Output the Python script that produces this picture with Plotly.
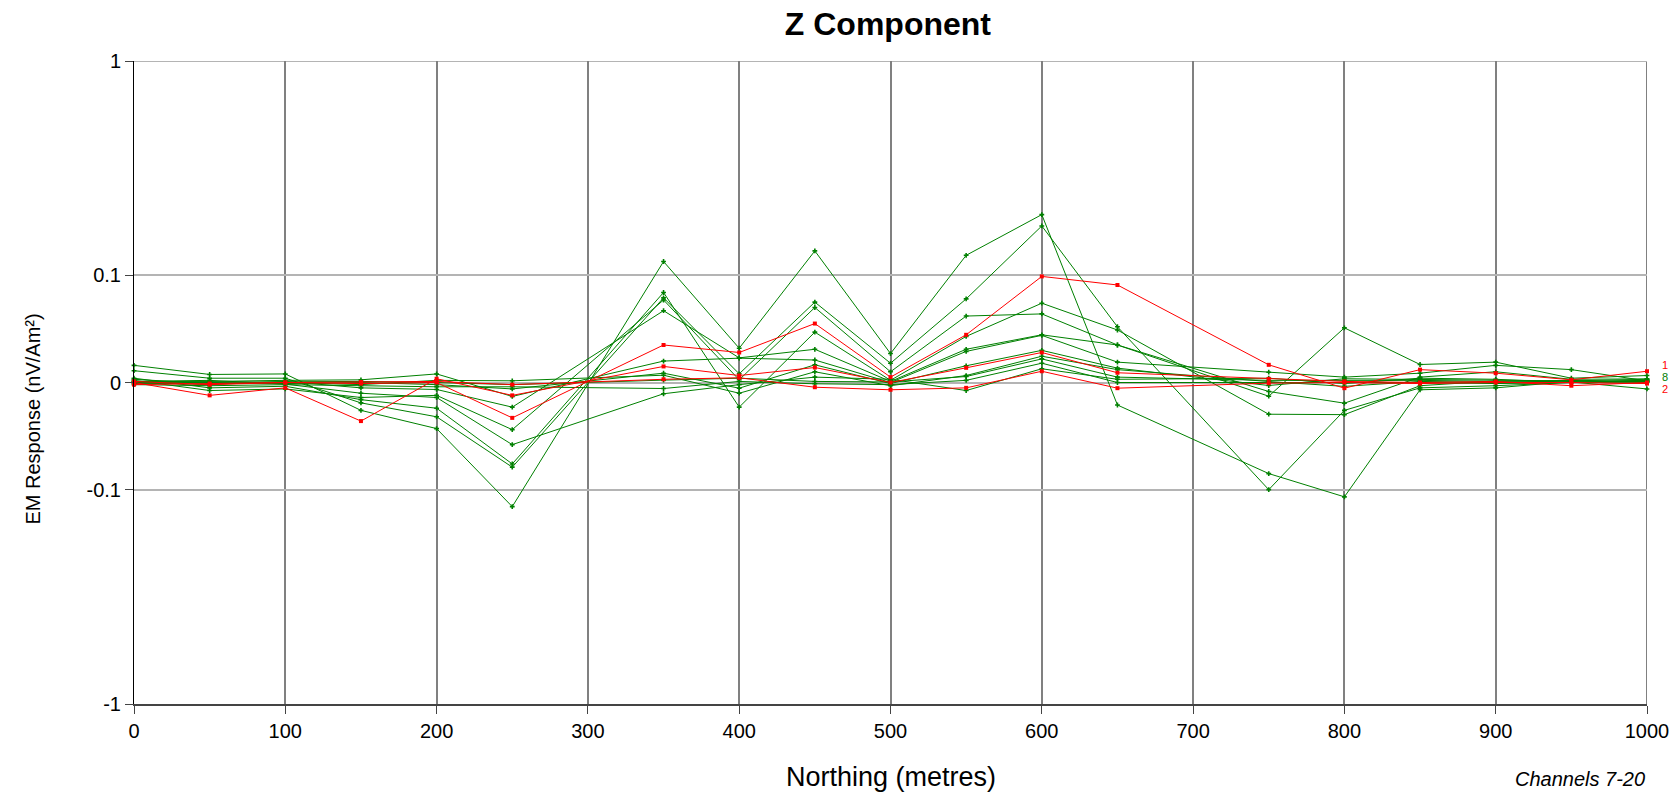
import math
import plotly.graph_objects as go

# Northing positions of the readings (metres)
northing = [0, 50, 100, 150, 200, 250, 350, 400, 450, 500, 550, 600, 650, 750, 800, 850, 900, 950, 1000]

# Z-component EM response per channel (nV/Am^2)
ch_g1 = [0.016, 0.0075, 0.008, -0.026, -0.043, -0.12, 0.116, 0.032, 0.13, 0.027, 0.124, 0.192, -0.021, -0.085, -0.108, -0.0068, -0.005, 0.001, 0.002]
ch_g2 = [0.011, 0.004, 0.004, -0.019, -0.032, -0.079, 0.079, 0.0081, 0.075, 0.018, 0.078, 0.17, 0.052, -0.1, -0.026, -0.005, -0.003, 0.0, 0.001]
ch_g3 = [0.004, -0.005, -0.0035, -0.016, -0.024, -0.076, 0.084, -0.023, 0.047, 0.002, 0.043, 0.074, 0.049, -0.0296, -0.030, -0.003, 0.0015, 0.0005, -0.006]
ch_g4 = [0.002, -0.0075, -0.006, -0.014, -0.012, -0.044, 0.077, 0.0025, 0.070, 0.010, 0.062, 0.064, 0.035, -0.0128, 0.051, 0.0168, 0.019, 0.004, 0.0065]
ch_g5 = [0.0, -0.002, 0.001, -0.005, -0.0065, -0.023, 0.067, 0.023, 0.031, 0.001, 0.031, 0.0445, 0.035, -0.0084, -0.0193, 0.005, 0.01, 0.003, 0.0034]
ch_g6 = [0.001, 0.001, 0.002, 0.0025, 0.008, -0.013, 0.020, 0.0227, 0.021, 0.0, 0.029, 0.044, 0.019, 0.0096, 0.005, 0.0087, 0.016, 0.012, 0.0015]
ch_g7 = [-0.001, 0.0, -0.001, 0.0, -0.002, -0.006, 0.0087, -0.0053, 0.0165, -0.001, 0.0156, 0.03, 0.0134, -0.0028, 0.0035, 0.003, 0.002, 0.0015, 0.003]
ch_g8 = [0.003, -0.001, 0.0, -0.002, 0.002, 0.0016, 0.0068, -0.01, 0.01, -0.003, 0.0065, 0.0245, 0.012, 0.0009, -0.0036, 0.001, 0.0, 0.0003, 0.001]
ch_g9 = [0.0, 0.0005, 0.0005, 0.001, 0.0, -0.002, 0.0022, 0.004, 0.001, 0.0005, 0.0056, 0.022, 0.005, 0.002, 0.002, 0.002, 0.001, 0.002, 0.0]
ch_g10 = [-0.002, -0.003, -0.002, -0.003, -0.004, -0.004, -0.0056, 0.001, -0.0012, -0.002, 0.002, 0.018, 0.0, 0.0, 0.0, 0.0, -0.001, 0.0, 0.002]
ch_g11 = [0.001, 0.002, -0.0015, -0.01, -0.014, -0.058, -0.0105, -0.002, 0.005, 0.003, -0.0075, 0.0128, 0.003, 0.004, -0.001, 0.004, 0.003, 0.0, 0.0005]
ch_r1 = [-0.002, -0.001, 0.0, -0.001, 0.0, -0.033, 0.035, 0.028, 0.055, 0.005, 0.0445, 0.099, 0.091, 0.0165, -0.0053, 0.012, 0.0087, 0.0025, 0.0105]
ch_r2 = [0.0, -0.012, -0.005, -0.036, 0.0035, -0.012, 0.015, 0.0065, 0.014, 0.0, 0.0137, 0.028, 0.0091, 0.0034, 0.001, 0.0, 0.001, -0.003, 0.0]
ch_r3 = [0.001, -0.002, 0.0, 0.0005, 0.001, -0.002, 0.003, 0.0044, -0.0044, -0.0068, -0.005, 0.0105, -0.0053, -0.0006, 0.0, -0.001, 0.0, 0.0, -0.001]

green_channels = [ch_g1, ch_g2, ch_g3, ch_g4, ch_g5, ch_g6, ch_g7, ch_g8, ch_g9, ch_g10, ch_g11]
red_channels = [ch_r1, ch_r2, ch_r3]

y_tick_values = [-1, -0.1, 0, 0.1, 1]
y_tick_labels = ["-1", "-0.1", "0", "0.1", "1"]
x_tick_values = list(range(0, 1001, 100))

LIN = 0.1  # linear band half-width around zero


def symlog(v):
    """Linear within +/-0.1 (half a decade wide), logarithmic beyond."""
    a = abs(v)
    if a <= LIN:
        return 0.5 * v / LIN
    return math.copysign(0.5 + math.log10(a / LIN), v)


fig = go.Figure()

for vals in green_channels:
    fig.add_trace(go.Scatter(
        x=northing, y=[symlog(v) for v in vals], mode="lines+markers",
        line=dict(color="#008000", width=1),
        marker=dict(symbol="cross", size=4, color="#008000"),
        showlegend=False, hoverinfo="skip", cliponaxis=False))

for vals in red_channels:
    fig.add_trace(go.Scatter(
        x=northing, y=[symlog(v) for v in vals], mode="lines+markers",
        line=dict(color="#FF0000", width=1),
        marker=dict(symbol="square", size=4, color="#FF0000"),
        showlegend=False, hoverinfo="skip", cliponaxis=False))

font = "Liberation Sans, Arial, sans-serif"

y_lo, y_hi = symlog(-1), symlog(1)

# frame lines at the far edges of the grid (right end and top)
shapes = [
    dict(type="line", xref="x", yref="y", x0=1000, x1=1000, y0=y_lo, y1=y_hi,
         line=dict(color="#808080", width=2), layer="below"),
    dict(type="line", xref="x", yref="y", x0=0, x1=1000, y0=y_hi, y1=y_hi,
         line=dict(color="#b4b4b4", width=2), layer="below"),
]

# channel tags stacked at the right edge, partly cut off by the page border
tags = [("1", "#FF0000", 12), ("8", "#008000", 0), ("2", "#FF0000", -12)]
tag_annotations = [
    dict(text=t, xref="paper", yref="y", x=1, y=0, xshift=18, yshift=dy + 6,
         xanchor="center", yanchor="middle", showarrow=False,
         font=dict(size=11, color=c))
    for t, c, dy in tags
]

fig.update_layout(
    width=1669, height=792,
    margin=dict(l=134, r=22, t=61, b=88, autoexpand=False),
    paper_bgcolor="white", plot_bgcolor="white",
    font=dict(family=font, color="black", size=20),
    title=dict(text="<b>Z Component</b>", x=0.532, xanchor="center",
               y=0.970, yanchor="middle", font=dict(size=32, family=font)),
    xaxis=dict(range=[0, 1000], tickvals=x_tick_values, automargin=False,
               showgrid=True, gridcolor="#808080", gridwidth=2,
               zeroline=False, showline=True, linecolor="#444444", linewidth=1.5,
               ticks="outside", ticklen=8, tickcolor="#444444",
               ticklabeloverflow="allow", tickfont=dict(size=20)),
    yaxis=dict(range=[y_lo, y_hi], automargin=False,
               tickvals=[symlog(v) for v in y_tick_values], ticktext=y_tick_labels,
               showgrid=True, gridcolor="#b4b4b4", gridwidth=2,
               zeroline=False, showline=True, linecolor="black", linewidth=1,
               ticks="outside", ticklen=8, tickcolor="#444444",
               tickfont=dict(size=20)),
    shapes=shapes,
    annotations=[
        dict(text="Northing (metres)", xref="paper", yref="paper", x=0.5, y=0,
             yshift=-73, xanchor="center", yanchor="middle", showarrow=False,
             font=dict(size=27)),
        dict(text="EM Response (nV/Am²)", xref="paper", yref="paper", x=0, y=0.5,
             xshift=-102, yshift=-37, textangle=-90, xanchor="center", yanchor="middle",
             showarrow=False, font=dict(size=20)),
        dict(text="<i>Channels 7-20</i>", xref="paper", yref="paper", x=1, y=0,
             xanchor="right", yanchor="middle", yshift=-75, xshift=0, showarrow=False,
             font=dict(size=20)),
    ] + tag_annotations,
)

fig.write_html("out.html")
